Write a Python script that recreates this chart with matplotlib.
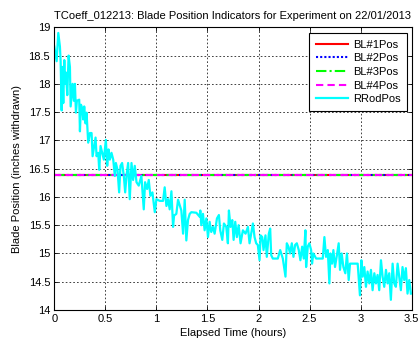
import matplotlib
matplotlib.use("Agg")
import matplotlib.pyplot as plt

plt.rcParams['font.family'] = ['Liberation Sans', 'DejaVu Sans']

title = "TCoeff_012213: Blade Position Indicators for Experiment on 22/01/2013"
xlabel = "Elapsed Time (hours)"
ylabel = "Blade Position (inches withdrawn)"

# Blade position indicators (constant over the run)
bl_labels = ["BL#1Pos", "BL#2Pos", "BL#3Pos", "BL#4Pos"]
bl_levels = [16.38, 16.38, 16.38, 16.38]

# Regulating rod position vs elapsed time
rrod_time = [
    0.000, 0.023, 0.039, 0.055, 0.062, 0.072, 0.078, 0.088, 0.098, 0.104,
    0.114, 0.127, 0.140, 0.153, 0.160, 0.169, 0.179, 0.192, 0.202, 0.212,
    0.221, 0.244, 0.251, 0.261, 0.274, 0.283, 0.293, 0.306, 0.316, 0.332,
    0.349, 0.365, 0.375, 0.391, 0.404, 0.414, 0.430, 0.440, 0.453, 0.469,
    0.485, 0.505, 0.518, 0.531, 0.544, 0.560, 0.577, 0.593, 0.603, 0.619,
    0.635, 0.648, 0.664, 0.681, 0.694, 0.707, 0.723, 0.739, 0.756, 0.772,
    0.788, 0.805, 0.827, 0.853, 0.876, 0.889, 0.909, 0.925, 0.941, 0.961,
    0.984, 1.000, 1.033, 1.065, 1.081, 1.098, 1.114, 1.130, 1.147, 1.163,
    1.173, 1.195, 1.212, 1.244, 1.261, 1.277, 1.293, 1.309, 1.326, 1.342,
    1.391, 1.423, 1.430, 1.440, 1.456, 1.472, 1.489, 1.505, 1.521, 1.537,
    1.554, 1.570, 1.593, 1.612, 1.625, 1.645, 1.661, 1.684, 1.700, 1.710,
    1.726, 1.743, 1.756, 1.772, 1.788, 1.805, 1.824, 1.847, 1.873, 1.896,
    1.912, 1.928, 1.945, 1.961, 1.977, 1.993, 2.010, 2.020, 2.036, 2.049,
    2.068, 2.081, 2.101, 2.114, 2.124, 2.140, 2.189, 2.212, 2.238, 2.264,
    2.277, 2.293, 2.309, 2.326, 2.342, 2.358, 2.375, 2.394, 2.410, 2.427,
    2.443, 2.459, 2.466, 2.482, 2.498, 2.515, 2.524, 2.537, 2.564, 2.629,
    2.645, 2.661, 2.678, 2.694, 2.704, 2.720, 2.733, 2.749, 2.765, 2.785,
    2.798, 2.814, 2.831, 2.850, 2.866, 2.883, 2.896, 2.922, 2.971, 2.993,
    3.007, 3.020, 3.036, 3.052, 3.068, 3.085, 3.101, 3.117, 3.134, 3.150,
    3.166, 3.182, 3.199, 3.215, 3.231, 3.248, 3.264, 3.280, 3.296, 3.313,
    3.329, 3.345, 3.362, 3.378, 3.394, 3.410, 3.427, 3.443, 3.459, 3.476,
    3.492,
]
rrod_pos = [
    18.66, 18.40, 18.90, 18.66, 18.40, 17.53, 18.30, 17.66, 18.42, 18.00,
    18.20, 17.80, 18.50, 18.30, 17.60, 17.80, 18.00, 17.70, 18.00, 17.49,
    17.70, 17.72, 17.16, 17.63, 17.57, 17.37, 17.60, 17.30, 17.49, 16.96,
    17.13, 17.13, 16.72, 16.90, 17.05, 16.72, 16.78, 16.48, 16.90, 16.78,
    16.66, 17.01, 16.55, 16.84, 16.66, 16.78, 16.66, 16.37, 16.60, 16.48,
    16.08, 16.55, 16.60, 16.37, 16.08, 16.37, 16.60, 15.96, 16.60, 16.30,
    16.55, 16.26, 16.20, 16.37, 15.78, 16.26, 16.14, 16.30, 16.02, 16.08,
    15.73, 15.96, 15.93, 15.93, 16.17, 15.84, 15.96, 15.78, 16.10, 15.47,
    15.67, 15.70, 15.95, 15.76, 15.35, 15.95, 15.23, 15.59, 15.70, 15.73,
    15.72, 15.65, 15.76, 15.50, 15.70, 15.41, 15.62, 15.29, 15.56, 15.38,
    15.47, 15.35, 15.62, 15.68, 15.41, 15.24, 15.53, 15.47, 15.18, 15.76,
    15.47, 15.59, 15.24, 15.56, 15.29, 15.50, 15.18, 15.41, 15.35, 15.47,
    15.18, 15.35, 15.53, 15.29, 15.18, 15.15, 14.88, 15.32, 15.29, 15.06,
    15.32, 14.94, 15.35, 15.44, 14.97, 14.91, 14.91, 15.06, 14.91, 14.59,
    15.18, 15.12, 15.00, 15.18, 14.94, 15.15, 15.18, 15.06, 14.88, 15.12,
    14.91, 15.41, 14.76, 15.12, 15.18, 15.06, 14.82, 15.00, 14.91, 14.91,
    15.29, 14.94, 15.06, 14.47, 15.00, 14.82, 15.06, 14.76, 14.94, 15.18,
    14.71, 15.00, 14.76, 14.65, 15.00, 14.53, 14.82, 14.82, 14.82, 14.26,
    14.88, 14.59, 14.76, 14.41, 14.68, 14.47, 14.71, 14.35, 14.65, 14.47,
    14.62, 14.35, 14.88, 14.59, 14.41, 14.71, 14.47, 14.65, 14.18, 14.82,
    14.47, 14.41, 14.82, 14.59, 14.35, 14.76, 14.53, 14.74, 14.29, 14.53,
    14.29,
]

xlim = (0, 3.5)
ylim = (14, 19)
xticks = [0, 0.5, 1, 1.5, 2, 2.5, 3, 3.5]
xticklabels = ["0", "0.5", "1", "1.5", "2", "2.5", "3", "3.5"]
yticks = [14, 14.5, 15, 15.5, 16, 16.5, 17, 17.5, 18, 18.5, 19]
yticklabels = ["14", "14.5", "15", "15.5", "16", "16.5", "17", "17.5", "18", "18.5", "19"]

fig = plt.figure(figsize=(4.2, 3.42), dpi=100)
W, H = 420, 342
left, right, top, bottom = 54.3, 411.7, 27.3, 310.0
ax = fig.add_axes([left / W, 1 - bottom / H, (right - left) / W, (bottom - top) / H])

bl_styles = [
    dict(color="#ff0000", linestyle="-"),
    dict(color="#0000ff", linestyle=(0, (1, 1))),
    dict(color="#00ff00", linestyle=(0, (5, 1.5, 1, 1.5))),
    dict(color="#ff00ff", linestyle=(0, (3.5, 2))),
]
for lab, lev, st in zip(bl_labels, bl_levels, bl_styles):
    ax.plot(list(xlim), [lev, lev], linewidth=1.5, label=lab, **st)

ax.plot(rrod_time, rrod_pos, color="#00ffff", linewidth=1.6, label="RRodPos")

ax.set_xlim(*xlim)
ax.set_ylim(*ylim)
ax.set_xticks(xticks)
ax.set_xticklabels(xticklabels)
ax.set_yticks(yticks)
ax.set_yticklabels(yticklabels)
ax.tick_params(direction="in", length=3, width=0.6, labelsize=8, pad=3,
               top=True, right=True, colors="black")
ax.grid(True, color="#222222", linestyle=(0, (2, 2.5)), linewidth=0.6)
for sp in ax.spines.values():
    sp.set_linewidth(0.8)
    sp.set_color("black")

ax.set_title(title, fontsize=8, pad=6)
ax.set_xlabel(xlabel, fontsize=8, labelpad=3)
ax.set_ylabel(ylabel, fontsize=8, labelpad=5)

leg = ax.legend(loc="upper right", bbox_to_anchor=(407 / W, 1 - 33 / H),
                bbox_transform=fig.transFigure, borderaxespad=0,
                fontsize=8, fancybox=False, framealpha=1, edgecolor="black",
                handlelength=2.9, labelspacing=0.33, handletextpad=0.4,
                borderpad=0.6)
leg.get_frame().set_linewidth(0.8)

fig.savefig("out.png", dpi=100, facecolor="white")
